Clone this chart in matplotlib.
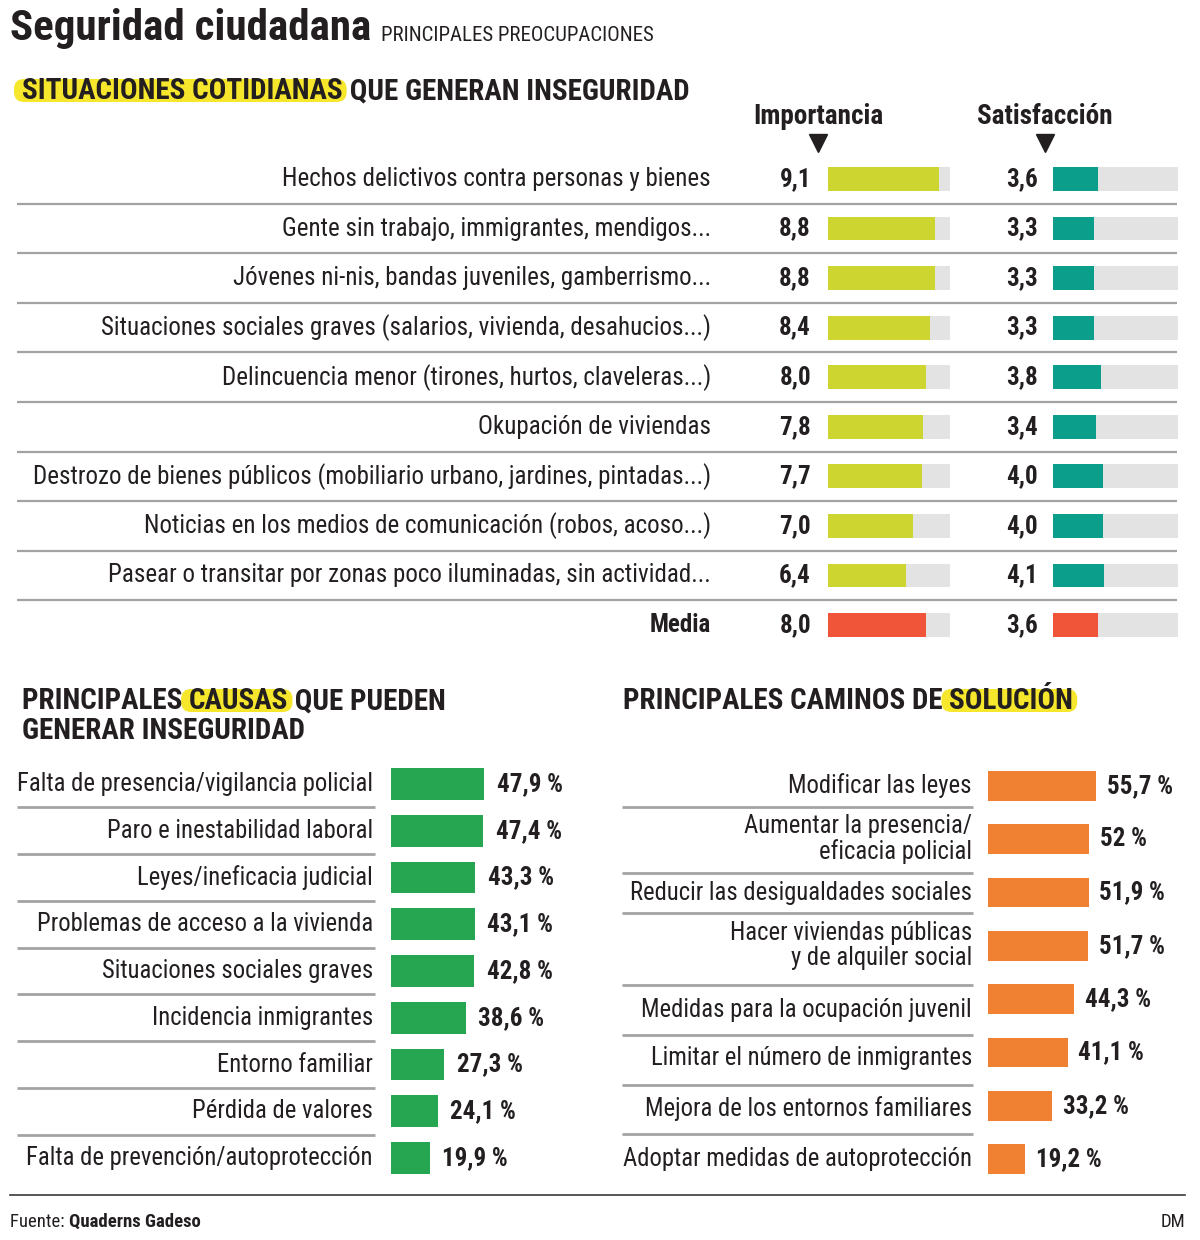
import matplotlib
matplotlib.use('Agg')
import matplotlib.pyplot as plt
from matplotlib import font_manager
from matplotlib.patches import FancyBboxPatch
from matplotlib.transforms import blended_transform_factory

# Datos: situaciones cotidianas que generan inseguridad
situaciones = [
    'Hechos delictivos contra personas y bienes',
    'Gente sin trabajo, immigrantes, mendigos...',
    'Jóvenes ni-nis, bandas juveniles, gamberrismo...',
    'Situaciones sociales graves (salarios, vivienda, desahucios...)',
    'Delincuencia menor (tirones, hurtos, claveleras...)',
    'Okupación de viviendas',
    'Destrozo de bienes públicos (mobiliario urbano, jardines, pintadas...)',
    'Noticias en los medios de comunicación (robos, acoso...)',
    'Pasear o transitar por zonas poco iluminadas, sin actividad...',
    'Media',
]
importancia = [9.1, 8.8, 8.8, 8.4, 8.0, 7.8, 7.7, 7.0, 6.4, 8.0]
satisfaccion = [3.6, 3.3, 3.3, 3.3, 3.8, 3.4, 4.0, 4.0, 4.1, 3.6]
escala_max = 10

# Datos: causas
causas = [
    'Falta de presencia/vigilancia policial',
    'Paro e inestabilidad laboral',
    'Leyes/ineficacia judicial',
    'Problemas de acceso a la vivienda',
    'Situaciones sociales graves',
    'Incidencia inmigrantes',
    'Entorno familiar',
    'Pérdida de valores',
    'Falta de prevención/autoprotección',
]
causas_pct = [47.9, 47.4, 43.3, 43.1, 42.8, 38.6, 27.3, 24.1, 19.9]

# Datos: soluciones
soluciones = [
    'Modificar las leyes',
    'Aumentar la presencia/\neficacia policial',
    'Reducir las desigualdades sociales',
    'Hacer viviendas públicas\ny de alquiler social',
    'Medidas para la ocupación juvenil',
    'Limitar el número de inmigrantes',
    'Mejora de los entornos familiares',
    'Adoptar medidas de autoprotección',
]
soluciones_pct = [55.7, 52.0, 51.9, 51.7, 44.3, 41.1, 33.2, 19.2]

# colores
DARK = '#231f20'
GRAY_BG = '#e3e3e3'
LINE = '#a3a3a3'
LIME = '#cdd630'
TEAL = '#0b9e8a'
RED = '#f0553a'
GREEN = '#27a651'
ORANGE = '#f08133'
YELLOW = '#f6e72c'

# fuente condensada si existe
disponibles = {f.name for f in font_manager.fontManager.ttflist}
familia = [f for f in ['Liberation Sans Narrow', 'Roboto Condensed', 'Roboto', 'DejaVu Sans']
           if f in disponibles]
plt.rcParams['font.family'] = familia

W, H = 1200, 1240
fig = plt.figure(figsize=(12, 12.4), dpi=100)
bg = fig.add_axes([0, 0, 1, 1])
bg.set_xlim(0, W)
bg.set_ylim(H, 0)
bg.axis('off')
renderer = fig.canvas.get_renderer()

FS = 18     # etiquetas
FV = 18     # valores
FH = 21     # cabeceras de sección


def panel(x0, y0, x1, y1):
    ax = fig.add_axes([x0 / W, 1 - y1 / H, (x1 - x0) / W, (y1 - y0) / H])
    ax.axis('off')
    return ax


def num(v, dec=1):
    return f'{v:.{dec}f}'.replace('.', ',')


def cabecera(x, y, partes, size):
    # escribe trozos seguidos; los marcados llevan subrayado amarillo
    for texto, resaltar in partes:
        t = bg.text(x, y, texto, fontsize=size, fontweight='bold', color=DARK,
                    ha='left', va='center', zorder=3)
        bb = t.get_window_extent(renderer).transformed(bg.transData.inverted())
        if resaltar:
            bg.add_patch(FancyBboxPatch((bb.x0 - 8, y - 12), bb.x1 - bb.x0 + 12, 23,
                                        boxstyle='round,pad=0,rounding_size=10',
                                        fc=YELLOW, ec='none', zorder=1))
        x = bb.x1


# Título
t = bg.text(10, 40, 'Seguridad ciudadana', fontsize=31, fontweight='bold', color=DARK,
            ha='left', va='baseline')
bb = t.get_window_extent(renderer).transformed(bg.transData.inverted())
bg.text(bb.x1 + 10, 41, 'PRINCIPALES PREOCUPACIONES', fontsize=15, color=DARK,
        ha='left', va='baseline')

cabecera(22, 91, [('SITUACIONES COTIDIANAS', True), (' QUE GENERAN INSEGURIDAD', False)], FH)

# --- Importancia / Satisfacción ---
n = len(situaciones)
paso = 49.56
y0, y1 = 179 - paso / 2, 625 + paso / 2
ax_i = panel(828, y0, 950, y1)
ax_s = panel(1053, y0, 1178, y1)
filas = list(range(n))
col_i = [LIME] * (n - 1) + [RED]
col_s = [TEAL] * (n - 1) + [RED]
for ax, vals, cols in [(ax_i, importancia, col_i), (ax_s, satisfaccion, col_s)]:
    ax.barh(filas, [escala_max] * n, height=0.48, color=GRAY_BG)
    ax.barh(filas, vals, height=0.48, color=cols)
    ax.set_xlim(0, escala_max)
    ax.set_ylim(n - 0.5, -0.5)

tr = blended_transform_factory(bg.transData, ax_i.transData)
for i, lab in enumerate(situaciones):
    bold = 'bold' if lab == 'Media' else 'normal'
    bg.text(711, i, lab, transform=tr, ha='right', va='center', fontsize=FS,
            fontweight=bold, color=DARK)
    bg.text(811, i, num(importancia[i]), transform=tr, ha='right', va='center',
            fontsize=FV, fontweight='bold', color=DARK)
    bg.text(1038, i, num(satisfaccion[i]), transform=tr, ha='right', va='center',
            fontsize=FV, fontweight='bold', color=DARK)
for i in range(n - 1):
    bg.plot([17, 1177], [i + 0.5, i + 0.5], transform=tr, color=LINE, lw=1.6,
            solid_capstyle='butt')

for x, txt in [(818, 'Importancia'), (1045, 'Satisfacción')]:
    bg.text(x, 117, txt, ha='center', va='center', fontsize=19.5, fontweight='bold', color=DARK)
    bg.plot([x], [143], marker='v', markersize=13, color=DARK, mec=DARK)

# --- Causas ---
cabecera(22, 701, [('PRINCIPALES ', False), ('CAUSAS', True), (' QUE PUEDEN', False)], FH)
cabecera(22, 731, [('GENERAR INSEGURIDAD', False)], FH)

esc = 1.94  # px por punto porcentual
nc = len(causas)
pc = (1158 - 784) / (nc - 1)
ax_c = panel(391, 784 - pc / 2, 391 + 220, 1158 + pc / 2)
ax_c.barh(range(nc), causas_pct, height=0.68, color=GREEN)
ax_c.set_xlim(0, 220 / esc)
ax_c.set_ylim(nc - 0.5, -0.5)
trc = blended_transform_factory(bg.transData, ax_c.transData)
for i, lab in enumerate(causas):
    bg.text(373, i, lab, transform=trc, ha='right', va='center', fontsize=17.7, color=DARK)
    ax_c.text(causas_pct[i] + 6.5, i, num(causas_pct[i]) + ' %', ha='left', va='center',
              fontsize=FV, fontweight='bold', color=DARK)
for i in range(nc - 1):
    bg.plot([17, 375], [i + 0.5, i + 0.5], transform=trc, color=LINE, lw=2,
            solid_capstyle='butt')

# --- Soluciones ---
cabecera(623, 701, [('PRINCIPALES CAMINOS DE ', False), ('SOLUCIÓN', True)], FH)

ns = len(soluciones)
ps = (1159 - 786) / (ns - 1)
ax_o = panel(988, 786 - ps / 2, 988 + 200, 1159 + ps / 2)
ax_o.barh(range(ns), soluciones_pct, height=0.56, color=ORANGE)
ax_o.set_xlim(0, 200 / esc)
ax_o.set_ylim(ns - 0.5, -0.5)
tro = blended_transform_factory(bg.transData, ax_o.transData)
desfase = [0, 0, 0, 0, 0.2, 0.11, 0.06, 0]
for i, lab in enumerate(soluciones):
    bg.text(972, i + desfase[i], lab, transform=tro, ha='right', va='center',
            fontsize=17.7, color=DARK, linespacing=1.05, multialignment='right')
    dec = 0 if soluciones_pct[i] == int(soluciones_pct[i]) else 1
    ax_o.text(soluciones_pct[i] + 5.5, i, num(soluciones_pct[i], dec) + ' %', ha='left',
              va='center', fontsize=FV, fontweight='bold', color=DARK)
for y in [807, 873, 913, 985, 1035, 1085, 1134]:
    bg.plot([622, 973], [y, y], color=LINE, lw=2, solid_capstyle='butt')

# --- Pie ---
bg.plot([10, 1185], [1195, 1195], color='#3a3a3a', lw=1.2)
t = bg.text(10, 1222, 'Fuente: ', fontsize=13.5, color=DARK, ha='left', va='center')
bb = t.get_window_extent(renderer).transformed(bg.transData.inverted())
bg.text(bb.x1, 1222, 'Quaderns Gadeso', fontsize=13.5, fontweight='bold', color=DARK,
        ha='left', va='center')
bg.text(1185, 1222, 'DM', fontsize=13.5, color=DARK, ha='right', va='center')

fig.savefig('out.png', dpi=100, facecolor='white')
